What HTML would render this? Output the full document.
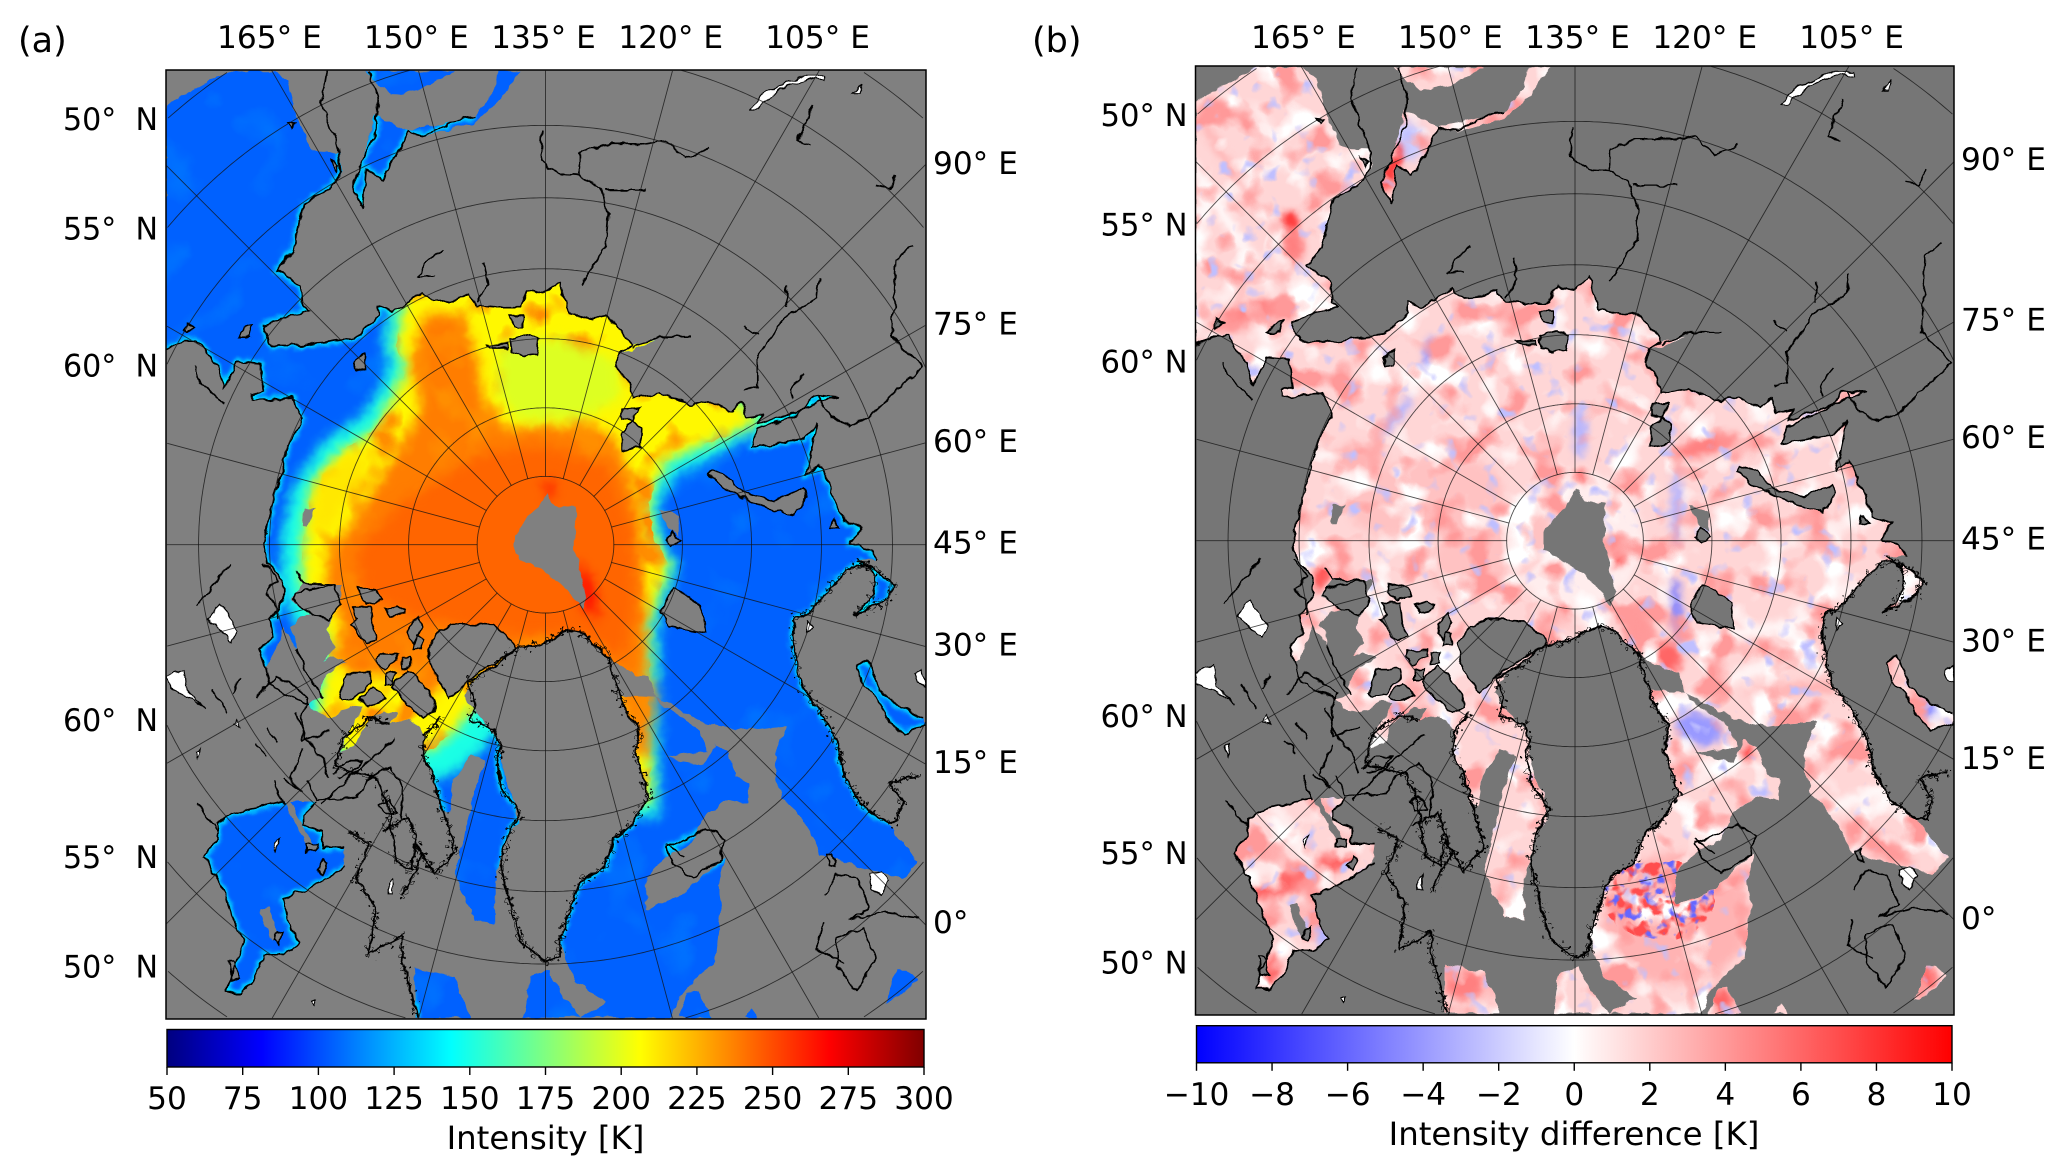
<!DOCTYPE html>
<html lang="en">
<head>
<meta charset="utf-8">
<title>Arctic sea-ice brightness temperature maps</title>
<style>
html,body{margin:0;padding:0;background:#fff;width:2067px;height:1176px;overflow:hidden;}
svg{display:block;}
text{font-family:"DejaVu Sans","Liberation Sans",sans-serif;fill:#000;white-space:pre;}
.tick{font-size:31.2px;}
.lab{font-size:32.4px;}
.panel{font-size:35px;}
</style>
</head>
<body>
<svg id="figure" xmlns="http://www.w3.org/2000/svg" width="2067" height="1176" viewBox="0 0 2067 1176">
<defs id="defs">
<filter id="blurBig" filterUnits="userSpaceOnUse" x="0" y="0" width="2067" height="1176" color-interpolation-filters="sRGB"><feGaussianBlur stdDeviation="6"/></filter>
<filter id="blurMid" filterUnits="userSpaceOnUse" x="0" y="0" width="2067" height="1176" color-interpolation-filters="sRGB"><feGaussianBlur stdDeviation="4"/></filter>
<filter id="blurSmall" filterUnits="userSpaceOnUse" x="0" y="0" width="2067" height="1176" color-interpolation-filters="sRGB"><feGaussianBlur stdDeviation="2"/></filter>
<filter id="jag" filterUnits="userSpaceOnUse" x="0" y="0" width="2067" height="1176" color-interpolation-filters="sRGB">
<feTurbulence type="fractalNoise" baseFrequency="0.09" numOctaves="2" seed="4" result="n"/>
<feDisplacementMap in="SourceGraphic" in2="n" scale="7" xChannelSelector="R" yChannelSelector="G"/>
</filter>
<filter id="jagHi" filterUnits="userSpaceOnUse" x="0" y="0" width="2067" height="1176" color-interpolation-filters="sRGB">
<feTurbulence type="fractalNoise" baseFrequency="0.2" numOctaves="2" seed="8" result="n"/>
<feDisplacementMap in="SourceGraphic" in2="n" scale="20" xChannelSelector="R" yChannelSelector="G"/>
</filter>
</defs>
<rect x="0" y="0" width="2067" height="1176" fill="#fff"/>
<text class="panel" x="18" y="52">(a)</text>
<text class="panel" x="1032" y="52">(b)</text>
<text class="lab" x="545.5" y="1149" text-anchor="middle">Intensity [K]</text>
<text class="lab" x="1574" y="1145" text-anchor="middle">Intensity difference [K]</text>
<g id="panelA"></g>
<g id="panelB"></g>
</svg>
<script>
// ---- graticule + axis tick data ----
const latCircles = [85, 80, 75, 70, 65, 60, 55, 50];
const meridians = [0, 15, 30, 45, 60, 75, 90, 105, 120, 135, 150, 165, 180, 195, 210, 225, 240, 255, 270, 285, 300, 315, 330, 345];
const topLonTicks = [165, 150, 135, 120, 105];
const rightLonTicks = [90, 75, 60, 45, 30, 15, 0];
const leftLatTicks = [50, 55, 60];
const intensityTicks = [50, 75, 100, 125, 150, 175, 200, 225, 250, 275, 300];
const differenceTicks = [-10, -8, -6, -4, -2, 0, 2, 4, 6, 8, 10];

// ---- sea-surface regions, map units ----
const seaRegions = [
"126,80 172,54 208,54 218,62 224,85 236,115 258,116 260,130 250,143 230,155 222,190 210,205 228,216 230,232 235,236 215,241 200,247 205,262 228,262 270,256 287,240 287,232 298,236 320,222 330,229 345,228 355,223 362,232 375,233 395,233 400,220 412,223 425,213 432,238 450,242 460,240 475,255 480,262 497,258 480,266 470,267 467,278 477,290 480,302 500,298 525,307 537,304 555,313 562,305 567,316 580,314 575,322 610,310 617,299 635,301 620,305 600,316 575,326 570,340 610,333 620,322 612,360 622,352 630,370 640,395 655,400 645,412 660,417 665,425 650,425 663,432 673,439 678,443 674,453 668,458 648,467 658,458 663,450 663,438 658,429 647,430 635,440 620,458 615,464 604,468 601,483 605,508 610,524 622,539 635,562 640,587 653,610 673,624 697,654 685,666 630,652 622,648 617,635 604,615 594,606 588,589 589,569 597,550 559,554 536,549 501,530 497,528 492,512 482,512 462,499 440,479 430,478 410,489 392,492 374,506 363,512 352,529 343,529 334,544 322,559 319,551 309,546 296,549 302,541 291,540 278,549 268,567 259,570 263,557 276,536 266,535 252,544 238,540 233,534 243,529 243,519 250,510 263,502 253,498 245,501 254,491 252,486 248,478 257,458 259,443 230,443 221,455 229,462 239,464 229,467 220,476 224,483 225,491 215,477 210,491 205,503 201,506 197,493 207,483 205,470 211,463 215,455 215,440 203,428 200,412 205,389 220,335 230,319 222,302 192,304 192,299 200,296 197,276 180,274 170,295 165,278 150,258 140,258 126,265",
"470,527 497,528 501,534 531,554 536,570 505,574 534,581 542,565 553,570 558,589 569,594 569,610 551,607 534,620 525,640 505,650 490,665 490,690 515,680 525,672 550,650 545,672 547,690 545,710 543,730 530,740 515,757 510,772 440,772 460,760 437,745 430,730 425,712 435,683 440,669 460,657 465,637 480,625 492,605 485,580 482,573 485,553 475,540",
"343,529 352,529 358,536 367,548 378,559 382,589 390,607 393,625 385,634 375,669 375,701 360,698 350,675 345,663 355,623 360,600 369,577 357,572 344,592 341,615 335,615 329,589 321,574 322,559 334,544",
"165,625 175,618 215,608 240,608 230,618 230,625 245,631 245,643 262,643 260,657 245,669 225,678 215,683 220,704 228,715 215,724 200,724 197,733 192,744 182,753 172,753 177,736 185,715 175,692 167,669 155,650 165,637",
"650,506 658,501 663,511 668,524 683,536 701,544 701,551 685,557 673,546 665,529 655,519",
"277,54 345,54 320,67 297,72 285,61",
"378,54 395,54 380,75 360,93 335,100 320,103 310,99 318,97 345,92 360,88 375,70",
"285,87 310,100 302,116 290,136 278,128 275,157 267,142 275,122",
"398,772 402,741 417,736 425,753 440,772",
"315,772 315,734 345,741 357,772",
"515,772 522,753 530,752 540,772",
"565,772 570,765 575,772",
"672,763 680,736 688,736 697,742 685,755"
];
// grey holes in the satellite swath
const swathGaps = [
"415,373 412,380 390,406 390,420 415,435 428,445 437,457 442,462 445,452 436,415 437,385 420,383",
"230,386 240,386 233,400 229,400",
"500,386 515,391 515,406 507,400",
"215,608 220,608 240,645 235,645",
"197,690 203,688 212,712 206,714"
];
// islands: land inside the sea
const islands = [
"334,478 347,473 374,474 389,486 392,492 374,503 359,513 341,529 331,513 326,503 326,491",
"310,476 318,468 320,476 314,488 309,483",
"316,483 321,484 320,492 314,493",
"293,462 301,459 307,463 306,465 297,468",
"272,445 286,448 291,455 278,458 273,453",
"267,460 281,460 283,476 286,486 278,488 266,473 271,470",
"225,450 253,443 258,458 250,470 230,462 223,455",
"257,529 263,511 281,511 282,517 271,529 259,531",
"288,496 302,496 302,501 291,508 286,501",
"292,511 300,510 299,519 292,519",
"305,498 311,498 311,506 305,507",
"273,531 283,521 293,530 281,535",
"298,521 309,508 316,514 329,529 329,539 321,544 306,531",
"370,262 385,261 385,264 372,264",
"387,258 400,254 409,257 407,268 397,270 389,267",
"387,239 397,239 397,248 390,247",
"268,275 277,268 277,280 270,281",
"472,310 486,309 480,319 472,318",
"480,319 487,326 486,339 472,342 472,328",
"540,357 550,360 565,374 587,380 610,370 612,377 602,391 575,383 550,371 537,360",
"510,403 516,410 510,415 505,409",
"510,446 517,449 532,460 535,480 507,475 502,463",
"632,394 637,400 630,400",
"185,249 192,246 190,255 180,255",
"142,245 147,248 142,252 140,249",
"218,93 224,94 221,97",
"252,122 257,125 255,129",
"232,640 242,640 240,645 232,646",
"245,652 249,654 245,664 241,660",
"209,708 214,706 212,716 207,714",
"174,729 178,729 182,742 176,744",
"627,649 631,648 633,657 629,656"
];
// coastlines and rivers
const coastLines = [
"248,54 244,78 257,112 259,130 250,143 230,155 222,190 210,205 228,216 230,232 235,236 215,241 200,247 205,262 228,262 270,256 287,240 287,232 298,236 320,222 330,229 345,228 355,223 362,232 375,233 395,233 400,220 412,223 425,213 432,238 450,242 460,240 475,255 480,262 470,267 467,278 477,290 480,302 500,298 525,307 537,304 555,313 562,305 567,316 580,314 575,322 610,310 617,299 635,301 620,305 600,316 575,326 570,340 610,333 620,322 612,360 622,352 630,370 640,395 655,400 645,412 660,417 665,425",
"650,425 663,432 673,439 678,443 674,453 668,458 648,467 658,458 663,450 663,438 658,429 647,430 635,440 620,458 615,464 604,468 601,483 605,508 610,524 622,539 635,562 640,587 653,610 673,624 680,623 685,608 675,594 697,588",
"280,54 287,75 285,100 275,122 267,142 275,157 278,128 290,136 302,116 310,100 320,103 345,92 360,88",
"126,265 140,258 150,258 165,278 170,295 180,274 197,276 200,296 192,299 192,304 222,302 230,319 220,335 205,389 200,412 203,428 215,440",
"147,278 150,287 170,307",
"215,440 215,455 211,463 205,470 207,483 197,493 201,506 205,520 225,530 233,534",
"225,491 232,510 245,530",
"225,434 230,443 253,443",
"355,518 360,533 357,546 375,553 380,565 377,576 380,597 395,617 385,634 380,657 385,678 395,715 415,730 425,725 425,712 435,683 440,669 460,657 465,637 480,625 492,605 485,580 482,573 485,553 475,540 470,527 462,499 440,479 430,478 410,489 392,492 374,506 355,518",
"334,544 322,559 321,574 329,589 336,615 345,646 330,663 315,640 312,660 300,652 295,610 285,590 265,585 255,582 260,560 280,545 296,549",
"265,631 280,640 270,666 285,689 280,724 305,710 305,727 317,772",
"245,610 265,590 300,560",
"505,643 520,637 537,628 550,637 547,652 525,666 510,654 505,643",
"625,678 635,663 650,666 660,689 645,698 670,692 697,695",
"635,712 655,704 665,727 650,752 635,733 635,712",
"650,506 658,501 663,511 668,524 683,536 701,544",
"701,551 685,557 673,546 665,529 655,519 650,506",
"155,650 165,637 165,625 175,618 215,608",
"240,608 230,618 230,625 245,631 245,643 262,643",
"262,657 245,669 225,678 215,683 220,704 228,715 215,724 200,724 197,733 192,744 182,753 172,753 177,736 185,715 175,692 167,669 155,650",
"412,99 410,122 425,132 440,133 455,142 462,162 460,186 440,217",
"440,133 440,116 460,109 488,109 505,106 520,120 538,113",
"458,144 490,144",
"335,190 325,197 317,210 330,209",
"367,199 370,215 362,229",
"622,211 620,226 595,241 575,270 575,293 565,296",
"597,216 597,232",
"692,187 680,197 677,255 700,278 687,290 660,316 645,323 630,316 620,299",
"617,78 605,107 615,110",
"680,132 675,143 665,141",
"565,247 575,254",
"610,283 600,296 602,303",
"525,255 500,255 480,264",
"230,568 220,590 228,600 215,590",
"225,540 232,560 245,575 250,590",
"165,630 150,610",
"290,630 310,620 320,650 305,680",
"640,730 620,720 625,700",
"520,650 505,640",
"149,460 157,450 175,427",
"200,427 211,440 201,450 210,458 211,470",
"195,529 209,513 223,520 233,529 229,544 230,562 250,554",
"253,587 263,577 276,577 266,587 256,589",
"233,592 240,607 271,605 278,592 296,582 306,597 304,622",
"194,564 202,574",
"202,551 211,563",
"161,522 172,541",
"176,526 182,515",
"207,592 215,610",
"288,611 296,607 302,617 293,618 288,611"
];
// indexes of heavily indented (fjord) coasts
const fjordCoasts = [1, 8, 9, 10, 36];
const lakes = [
"570,83 580,70 610,57 625,57 626,61 615,59 590,68 575,83",
"647,71 655,64 652,71",
"157,470 167,458 181,478 176,487 168,479",
"126,513 140,508 142,524 156,538 147,531 129,522",
"613,471 617,476 612,480",
"694,512 700,508 702,520 696,518",
"177,550 180,546 182,552",
"148,570 152,568 150,576",
"208,640 212,636 210,645",
"236,760 240,759 238,764",
"295,670 298,667 298,678 295,678",
"660,664 668,661 674,668 668,678 662,674"
];

// ---- panel (a): brightness temperature zones ----
const zoneValues = [150, 208, 238, 198, 244, 268, 268, 236, 212];
const zoneOutlines = [
"300,205 430,195 510,255 510,290 565,300 590,318 545,345 512,360 500,382 503,410 515,430 500,470 500,620 480,620 440,510 395,530 365,570 340,590 260,590 228,555 235,490 220,465 214,440 214,405 222,370 245,335 275,315 288,295 296,278 290,262 295,235",
"308,215 430,205 500,255 500,290 560,305 578,320 540,335 505,350 492,380 496,410 508,430 493,470 494,610 480,610 440,500 380,510 345,555 325,570 265,575 240,545 250,490 238,465 228,440 230,410 235,375 255,345 285,325 298,300 308,280 300,262 305,235",
"322,238 350,238 362,270 368,310 385,325 420,322 462,328 472,345 484,380 488,420 490,470 491,540 480,520 445,495 385,500 345,510 325,530 300,510 270,515 255,500 260,470 246,450 250,420 270,392 292,358 320,310 312,275",
"378,262 425,256 470,275 470,303 440,318 395,320 378,300",
"362,345 410,338 460,352 480,400 482,460 472,500 440,482 380,482 320,470 275,450 270,420 305,380",
"438,425 449,440 455,470 442,460",
"414,366 421,366 419,376 414,376",
"465,515 498,520 492,575 480,570",
"240,362 265,345 285,345 262,385 245,408 236,400"
];
const coreZones = [3, 8, 4, 5, 6];

// ---- panel (b): difference patches ----
const diffBaseValue = 1.6;
const diffPatchCenters = [
[198,170],[200,190],[175,238],[215,235],[150,250],[513,341],[414,412],[446,421],[418,365],[218,421],[223,438],
[303,273],[278,319],[418,331],[491,389],[491,466],[508,556],[483,502],[463,483],[603,524],[643,643],[205,668],[183,740],
[223,710],[683,541],[288,110],[275,130],[330,750],[525,762],[363,695],[543,570],[680,745],[490,700],[250,350],
[171,138],[150,170],[200,130],[140,110],[205,645],[610,565],[625,610],[553,510],[560,480],[300,380],[350,420]
];
const diffPatchRadii = [
[7,6],[8,14],[30,7],[18,6],[15,6],[25,7],[52,52],[7,12],[4,4],[6,6],[5,14],
[4,15],[4,20],[5,20],[4,30],[4,25],[18,12],[12,12],[12,22],[60,5],[30,8],[45,9],[6,14],
[6,12],[12,7],[12,15],[5,20],[15,12],[10,10],[12,15],[6,12],[8,10],[55,50],[20,10],
[90,3],[70,4],[60,3],[60,3],[45,5],[30,5],[30,5],[60,5],[60,5],[60,30],[50,30]
];
const diffPatchAngles = [
0,0,-10,-10,0,-15,0,0,0,0,20,
10,40,0,0,-5,20,0,-25,-5,30,-22,15,
0,20,0,20,0,0,0,0,0,0,0,-30,
58,58,58,58,-25,-20,-20,-8,-8,-30,-30
];
const diffPatchValues = [
8,5,5,5,4,5,0.7,7,8,8,7,
-4,-3,-3,-3,-5,-4,6,4,3,4,6,6,
-3,-4,-2,8,5,6,5,7,6,3,3,
0.2,0.2,0.2,3,0.5,0.3,0.3,0.4,0.4,2.4,2.4
];

// ---- scales ----
const K = 1.318;
const panels = [
  {id:'a', gName:'panelA', left:166, top:70, right:926, bottom:1019, sea:'#808080', barTop:1029.5, barBottom:1067, tickBase:1109, latSpace:'  ', topShift:-2, rightGap:7},
  {id:'b', gName:'panelB', left:1195.5, top:66, right:1954, bottom:1015, sea:'#767676', barTop:1025.7, barBottom:1062.8, tickBase:1105, latSpace:' ', topShift:2.5, rightGap:7}
];
const mapX = (u,p) => p.left + (u-126)*K;
const mapY = (v,p) => p.top + (v-53)*K;
const poleX = p => p.left + 379.5;
const poleY = p => p.top + 474.7;
const latRadius = lat => 1565*Math.tan((90-lat)/2*Math.PI/180);
const lonAngle = lon => (lon-45)*Math.PI/180;
const projX = (lon,lat,p) => poleX(p)+latRadius(lat)*Math.cos(lonAngle(lon));
const projY = (lon,lat,p) => poleY(p)-latRadius(lat)*Math.sin(lonAngle(lon));
const inAxes = (x,y,p) => x>=p.left && x<=p.right && y>=p.top && y<=p.bottom;
const clamp = x => Math.max(0,Math.min(1,x));
function jet(v){
  const t=(v-50)/250;
  const r=clamp(1.5-Math.abs(4*t-3)), g=clamp(1.5-Math.abs(4*t-2)), b=clamp(1.5-Math.abs(4*t-1));
  return `rgb(${Math.round(r*255)},${Math.round(g*255)},${Math.round(b*255)})`;
}
function bwr(v){
  const t=Math.max(-1,Math.min(1,v/10));
  if(t<0){const c=Math.round(255*(1+t));return `rgb(${c},${c},255)`;}
  const c=Math.round(255*(1-t));return `rgb(255,${c},${c})`;
}
const NS='http://www.w3.org/2000/svg';
function mk(tag,attrs,parent){
  const e=document.createElementNS(NS,tag);
  for(const k in attrs)e.setAttribute(k,attrs[k]);
  if(parent)parent.appendChild(e);
  return e;
}
function pts(str,p){
  return str.trim().split(/\s+/).map(s=>{const a=s.split(',');return mapX(+a[0],p).toFixed(1)+','+mapY(+a[1],p).toFixed(1);}).join(' ');
}
const defs=document.getElementById('defs');

// noise filters for mottled fields
function noiseFilter(id,freq,seed,color,gain,bias){
  const f=mk('filter',{id:id,filterUnits:'userSpaceOnUse',x:0,y:0,width:2067,height:1176,'color-interpolation-filters':'sRGB'},defs);
  mk('feTurbulence',{type:'fractalNoise',baseFrequency:freq,numOctaves:2,seed:seed,result:'n'},f);
  const m=color.match(/\d+/g).map(x=>(+x/255).toFixed(3));
  mk('feColorMatrix',{type:'matrix',values:`0 0 0 0 ${m[0]} 0 0 0 0 ${m[1]} 0 0 0 0 ${m[2]} ${gain} 0 0 0 ${bias}`},f);
}
noiseFilter('waterMottle','0.02',9,jet(114),2.2,-1.3);
noiseFilter('warmMottle','0.03',7,jet(234),4,-2.0);
noiseFilter('noiseWhite','0.028',3,bwr(0),5,-2.6);
noiseFilter('noiseRed','0.03',11,bwr(4),5,-2.6);
noiseFilter('noiseBlue','0.05',21,bwr(-2.5),6,-3.8);
noiseFilter('hfRed','0.08',5,bwr(7),6,-3.0);
noiseFilter('hfBlue','0.09',31,bwr(-6),7,-4.0);

panels.forEach(p=>{
  const root=document.getElementById(p.gName);
  const w=p.right-p.left, h=p.bottom-p.top;

  // clip paths
  const axClip=mk('clipPath',{id:'axes-clip-'+p.id},defs);
  mk('rect',{x:p.left,y:p.top,width:w,height:h},axClip);
  const seaClip=mk('clipPath',{id:'sea-clip-'+p.id},defs);
  seaRegions.forEach(s=>mk('polygon',{points:pts(s,p)},seaClip));

  const axes=mk('g',{'clip-path':`url(#axes-clip-${p.id})`},root);
  
  

  const land=mk('rect',{x:p.left,y:p.top,width:w,height:h,fill:p.sea},axes);
  
  

  // displaced (jagged) sea field
  const jag=mk('g',{filter:'url(#jag)'},axes);
  
  
  const field=mk('g',{'clip-path':`url(#sea-clip-${p.id})`},jag);

  if(p.id==='a'){
    const base=mk('rect',{x:p.left,y:p.top,width:w,height:h,fill:jet(105)},field);
    
    
    const mott=mk('rect',{x:p.left,y:p.top,width:w,height:h,filter:'url(#waterMottle)'},field);
    
    
    const fringe=mk('g',{fill:'none',stroke:jet(140),'stroke-width':5,filter:'url(#blurSmall)'},field);
    coastLines.forEach(s=>{
      const l=mk('polyline',{points:pts(s,p)},fringe);
      
      
    });
    const zonesG=mk('g',{filter:'url(#blurBig)'},field);
    zoneOutlines.forEach((s,i)=>{
      if(coreZones.indexOf(i)>=0)return;
      const z=mk('polygon',{points:pts(s,p),fill:jet(zoneValues[i])},zonesG);
      
      
      if(i===1){
        const wc=mk('clipPath',{id:'warm-clip'},defs);
        mk('polygon',{points:pts(s,p)},wc);
      }
    });
    const warm=mk('g',{'clip-path':'url(#warm-clip)'},field);
    const wm=mk('rect',{x:p.left,y:p.top,width:w,height:h,filter:'url(#warmMottle)'},warm);
    
    
    const coreG=mk('g',{filter:'url(#blurBig)'},field);
    coreZones.forEach(i=>{
      const z=mk('polygon',{points:pts(zoneOutlines[i],p),fill:jet(zoneValues[i])},coreG);
      
      
    });
  } else {
    const base=mk('rect',{x:p.left,y:p.top,width:w,height:h,fill:bwr(diffBaseValue)},field);
    
    
    const blobs=mk('g',{filter:'url(#blurMid)'},field);
    diffPatchCenters.forEach((c,i)=>{
      const cx=mapX(c[0],p), cy=mapY(c[1],p), r=diffPatchRadii[i];
      const e=mk('ellipse',{cx:cx,cy:cy,rx:r[0]*K,ry:r[1]*K,fill:bwr(diffPatchValues[i]),transform:`rotate(${diffPatchAngles[i]} ${cx} ${cy})`},blobs);
      
      
    });
    ['noiseWhite','noiseRed','noiseBlue'].forEach(fid=>{
      const n=mk('rect',{x:p.left,y:p.top,width:w,height:h,filter:`url(#${fid})`},field);
      
      
    });
    // noisy North Atlantic sector
    const clipHF=mk('clipPath',{id:'hf-clip'},defs);
    mk('ellipse',{cx:mapX(478,p),cy:mapY(686,p),rx:42*K,ry:30*K},clipHF);
    const hf=mk('g',{'clip-path':'url(#hf-clip)'},field);
    ['hfRed','hfBlue'].forEach(fid=>{
      const n=mk('rect',{x:p.left,y:p.top,width:w,height:h,filter:`url(#${fid})`},hf);
      
      
    });
  }
  swathGaps.forEach(s=>{
    const g=mk('polygon',{points:pts(s,p),fill:p.sea},jag);
    
    
  });

  // land overlays on same displacement
  islands.forEach(s=>{
    const g=mk('polygon',{points:pts(s,p),fill:p.sea,stroke:'#000','stroke-width':1.6},jag);
    
    
  });
  coastLines.forEach(s=>{
    const l=mk('polyline',{points:pts(s,p),fill:'none',stroke:'#000','stroke-width':1.7,'stroke-linejoin':'round'},jag);
    
    
  });
  lakes.forEach(s=>{
    const g=mk('polygon',{points:pts(s,p),fill:'#fff',stroke:'#000','stroke-width':1.2},jag);
    
    
  });
  const fj=mk('g',{filter:'url(#jagHi)',fill:'none',stroke:'#000','stroke-width':1.5},axes);
  
  
  fjordCoasts.forEach(i=>{
    const l=mk('polyline',{points:pts(coastLines[i],p)},fj);
    
    
  });

  // graticule (segments limited to the axes)
  const grat=mk('g',{fill:'none',stroke:'#111','stroke-width':0.9,'stroke-opacity':0.75},axes);
  
  
  latCircles.forEach(lat=>{
    let seg=[];
    const flush=()=>{
      if(seg.length>1){
        const c=mk('polyline',{points:seg.join(' ')},grat);
        
        
      }
      seg=[];
    };
    for(let lon=0;lon<=360;lon+=0.5){
      const x=projX(lon,lat,p), y=projY(lon,lat,p);
      if(inAxes(x,y,p))seg.push(x.toFixed(1)+','+y.toFixed(1)); else flush();
    }
    flush();
  });
  meridians.forEach(lon=>{
    let end=85;
    for(let lat=85;lat>20;lat-=0.1){
      if(!inAxes(projX(lon,lat,p),projY(lon,lat,p),p))break;
      end=lat;
    }
    const l=mk('line',{x1:projX(lon,85,p),y1:projY(lon,85,p),x2:projX(lon,end,p),y2:projY(lon,end,p)},grat);
    
    
  });

  // axes frame
  const frame=mk('rect',{x:p.left,y:p.top,width:w,height:h,fill:'none',stroke:'#000','stroke-width':1.5},root);
  
  

  // longitude labels
  topLonTicks.forEach(lon=>{
    const a=lonAngle(lon);
    const x=poleX(p)+(poleY(p)-p.top)/Math.tan(a)+p.topShift;
    const t=mk('text',{class:'tick',x:x,y:48,'text-anchor':'middle'},root);
    t.textContent=lon+'\u00b0 E';
    
    
  });
  rightLonTicks.forEach(lon=>{
    const a=lonAngle(lon);
    const y=poleY(p)-(p.left+759-poleX(p))*Math.tan(a);
    const t=mk('text',{class:'tick',x:p.right+p.rightGap,y:y+9},root);
    t.textContent=lon===0?'0\u00b0':lon+'\u00b0 E';
    
    
  });
  leftLatTicks.forEach(lat=>{
    const r=latRadius(lat), dx=poleX(p)-p.left, dy=Math.sqrt(r*r-dx*dx);
    [[-dy,10],[dy,8]].forEach(o=>{
      const t=mk('text',{class:'tick',x:p.left-8,y:poleY(p)+o[0]+o[1],'text-anchor':'end',textLength:p.id==='a'?95:87,lengthAdjust:'spacingAndGlyphs'},root);
      t.textContent=lat+'\u00b0'+p.latSpace+'N';
      
      
    });
  });

  // colour bar
  const isA=p.id==='a';
  const ticks=isA?intensityTicks:differenceTicks;
  const vMin=ticks[0], vMax=ticks[ticks.length-1];
  const cmap=isA?jet:bwr;
  const barX=v=>p.left+1+(v-vMin)/(vMax-vMin)*(w-3);
  const grad=mk('linearGradient',{id:'cbar-'+p.id,x1:0,y1:0,x2:1,y2:0},defs);
  for(let i=0;i<=40;i++){
    mk('stop',{offset:i/40,'stop-color':cmap(vMin+(vMax-vMin)*i/40)},grad);
  }
  const bar=mk('rect',{x:barX(vMin),y:p.barTop,width:barX(vMax)-barX(vMin),height:p.barBottom-p.barTop,fill:`url(#cbar-${p.id})`,stroke:'#000','stroke-width':1.4},root);
  
  
  ticks.forEach(v=>{
    const x=barX(v);
    const l=mk('line',{x1:x,x2:x,y1:p.barBottom,y2:p.barBottom+8,stroke:'#000','stroke-width':1.4},root);
    
    
    const t=mk('text',{class:'tick',x:x,y:p.tickBase,'text-anchor':'middle'},root);
    t.textContent=v<0?'\u2212'+Math.abs(v):String(v);
    
    
  });
});
</script>
</body>
</html>
